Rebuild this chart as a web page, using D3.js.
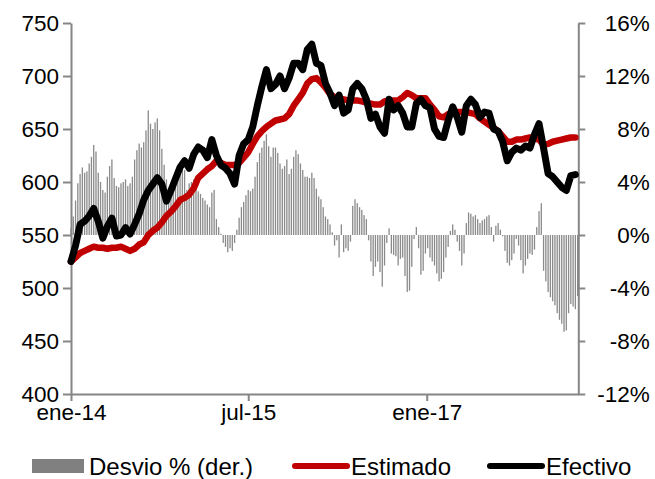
<!DOCTYPE html>
<html>
<head>
<meta charset="utf-8">
<script src="https://cdn.jsdelivr.net/npm/d3@7"></script>
<style>
  html, body { margin: 0; padding: 0; background: #fff; }
  svg { display: block; }
</style>
</head>
<body>
<svg id="chart" width="655" height="479"></svg>
<script>
// Tipo de cambio: estimado vs. efectivo (izq.) y desvío % (der.)

// Serie quincenal desde el 1-ene-2014
const efectivo = [
  525,540,560,563,568,575,563,547,558,566,
  549,550,557,551,560,570,583,592,598,604,
  598,582,592,603,614,620,613,626,633,630,
  623,640,625,616,613,608,598,625,636,640,
  652,672,690,706,688,692,700,688,698,712,
  712,706,725,730,712,710,693,684,672,682,
  665,668,688,693,688,678,660,664,652,646,
  678,668,672,665,652,652,674,678,672,670,
  650,643,642,658,671,661,647,672,678,673,
  661,666,665,650,648,638,620,628,632,630,
  634,632,645,655,632,608,605,600,595,592,
  606,607
];
const estimado = [
  525,529,533,535,537,539,538,538,537,538,
  538,539,537,535,537,541,543,550,554,557,
  562,568,572,577,583,585,588,594,604,608,
  612,615,620,618,616,616,616,618,623,628,
  636,643,648,652,655,658,659,660,664,672,
  678,684,693,697,698,694,689,683,680,679,
  678,677,677,677,676,675,674,673,673,676,
  677,677,677,680,684,682,679,679,679,673,
  668,662,661,664,665,666,666,666,665,664,
  660,657,654,651,648,643,638,638,640,640,
  641,642,641,640,635,636,638,639,640,641,
  642,642
];
// Desvío % semanal desde el 1-ene-2014
const desvio = [
  0.5,1.4,2.6,3.9,4.6,5.1,4.7,4.8,5.4,5.9,
  6.8,6.3,4.7,4.0,3.4,3.2,4.4,5.2,5.7,4.3,
  3.7,3.6,3.9,4.0,4.2,3.7,3.9,4.4,5.7,6.4,
  6.9,6.6,7.0,7.9,9.4,8.4,8.0,8.5,8.8,7.9,
  6.5,5.3,4.2,3.2,3.4,3.9,4.5,5.0,5.2,5.3,
  4.9,3.4,3.9,4.0,4.2,3.7,3.3,3.1,2.8,2.6,
  2.3,2.1,3.2,3.4,1.2,0.6,0.1,-0.6,-0.9,-1.3,
  -1.0,-1.2,-0.6,0.4,1.3,2.1,2.5,3.0,3.4,3.3,
  3.5,4.4,5.5,6.2,6.6,7.1,7.6,6.7,5.9,6.6,
  6.6,6.2,5.4,5.0,5.2,5.7,4.6,5.0,5.9,6.4,
  6.1,5.4,4.9,4.4,4.4,4.3,4.7,4.3,3.5,2.9,
  2.7,2.1,1.4,1.2,0.8,0.2,-0.8,-0.4,-1.7,0.8,
  -1.3,-1.0,-1.2,-0.5,2.2,2.7,2.4,2.1,1.9,1.5,
  1.2,-0.4,-2.0,-3.1,-2.4,-2.0,-2.8,-3.9,-2.3,-0.6,
  0.5,-1.4,-1.5,-1.6,-2.3,-1.8,-1.7,-3.1,-4.3,-4.2,
  -2.4,-0.3,0.6,-1.0,-3.0,-2.7,-1.4,-1.0,-1.7,-2.0,
  -2.3,-2.9,-3.5,-3.3,-2.8,-1.7,-0.9,0.3,0.8,0.4,
  -0.5,-1.2,-2.3,-1.4,0.9,1.7,1.6,1.4,1.5,1.2,
  0.9,1.1,1.2,1.4,1.5,0.6,-0.5,0.7,0.9,0.4,
  -0.1,-1.2,-2.1,-2.3,-1.9,-1.4,-0.3,-0.8,-1.9,-2.9,
  -2.3,-1.8,-1.4,-1.5,-1.1,0.6,1.8,2.4,-2.7,-3.5,
  -4.3,-4.7,-5.0,-5.3,-5.9,-6.4,-6.7,-7.3,-7.2,-5.9,
  -5.2,-5.4,-5.6,-4.6
];

const xTickDates = ["2014-01-01", "2015-07-01", "2017-01-01"];
const xTickLabels = ["ene-14", "jul-15", "ene-17"];
const yLeftTicks = [400, 450, 500, 550, 600, 650, 700, 750];
const yRightTicks = [-12, -8, -4, 0, 4, 8, 12, 16];
const seriesNames = ["Desvio % (der.)", "Estimado", "Efectivo"];

const start = new Date(Date.UTC(2014, 0, 1));
const lineDates = efectivo.map((_, i) => d3.utcDay.offset(start, 14 * i));
const barDates = desvio.map((_, i) => d3.utcDay.offset(start, 7 * i));

const FONT = "'Liberation Sans', Arial, Helvetica, sans-serif";
const AXIS = "#868686";
const plot = { left: 71, right: 578.3, top: 23, bottom: 394 };

const svg = d3.select("#chart");

const x = d3.scaleUtc()
  .domain([start, new Date(Date.UTC(2018, 3, 13))])
  .range([plot.left, plot.right]);
const yL = d3.scaleLinear().domain([400, 750]).range([plot.bottom, plot.top]);
const yR = d3.scaleLinear().domain([-12, 16]).range([plot.bottom, plot.top]);

// Desvío: barras finas desde el 0%
const barW = 1.3;
svg.append("g")
  .selectAll("rect")
  .data(desvio)
  .join("rect")
  .attr("x", (d, i) => x(barDates[i]) - barW / 2)
  .attr("y", d => Math.min(yR(d), yR(0)))
  .attr("width", barW)
  .attr("height", d => Math.abs(yR(d) - yR(0)))
  .attr("fill", "#8a8a8a");

// Ejes
function styleAxis(g) {
  g.selectAll("path.domain").attr("stroke", AXIS).attr("stroke-width", 2);
  g.selectAll(".tick line").attr("stroke", AXIS).attr("stroke-width", 2);
  g.selectAll(".tick text")
    .attr("fill", "#000")
    .style("font-family", FONT)
    .style("font-size", "22.5px");
}

svg.append("g")
  .attr("transform", `translate(${plot.left},0)`)
  .call(d3.axisLeft(yL).tickValues(yLeftTicks).tickSize(8).tickSizeOuter(0).tickPadding(4))
  .call(styleAxis)
  .call(g => g.selectAll(".tick text").attr("dy", "0.32em"));

svg.append("g")
  .attr("transform", `translate(${plot.right},0)`)
  .call(d3.axisRight(yR).tickValues(yRightTicks).tickSize(7).tickSizeOuter(0)
    .tickFormat(d => d + "%"))
  .call(styleAxis)
  .call(g => g.selectAll(".tick text")
    .attr("x", 71.5)
    .attr("text-anchor", "end")
    .attr("dy", "0.32em"));

svg.append("g")
  .attr("transform", `translate(0,${plot.bottom})`)
  .call(d3.axisBottom(x)
    .tickValues(xTickDates.map(d => new Date(d + "T00:00:00Z")))
    .tickFormat((d, i) => xTickLabels[i])
    .tickSize(7).tickSizeOuter(0).tickPadding(3))
  .call(styleAxis);

// Líneas
const lineL = d3.line().x((d, i) => x(lineDates[i])).y(d => yL(d));

svg.append("path")
  .datum(estimado)
  .attr("d", lineL)
  .attr("fill", "none")
  .attr("stroke", "#c00000")
  .attr("stroke-width", 6.5)
  .attr("stroke-linejoin", "round")
  .attr("stroke-linecap", "round");

svg.append("path")
  .datum(efectivo)
  .attr("d", lineL)
  .attr("fill", "none")
  .attr("stroke", "#000")
  .attr("stroke-width", 7)
  .attr("stroke-linejoin", "round")
  .attr("stroke-linecap", "round");

// Leyenda
const leg = svg.append("g").style("font-family", FONT).style("font-size", "24px");
leg.append("rect").attr("x", 32).attr("y", 459).attr("width", 52).attr("height", 14).attr("fill", "#808080");
leg.append("text").attr("x", 89).attr("y", 475).text(seriesNames[0]);
leg.append("line").attr("x1", 295).attr("x2", 347).attr("y1", 466).attr("y2", 466)
  .attr("stroke", "#c00000").attr("stroke-width", 6).attr("stroke-linecap", "round");
leg.append("text").attr("x", 351).attr("y", 475).text(seriesNames[1]);
leg.append("line").attr("x1", 490).attr("x2", 542).attr("y1", 466).attr("y2", 466)
  .attr("stroke", "#000").attr("stroke-width", 6).attr("stroke-linecap", "round");
leg.append("text").attr("x", 546).attr("y", 475).text(seriesNames[2]);
</script>
</body>
</html>
